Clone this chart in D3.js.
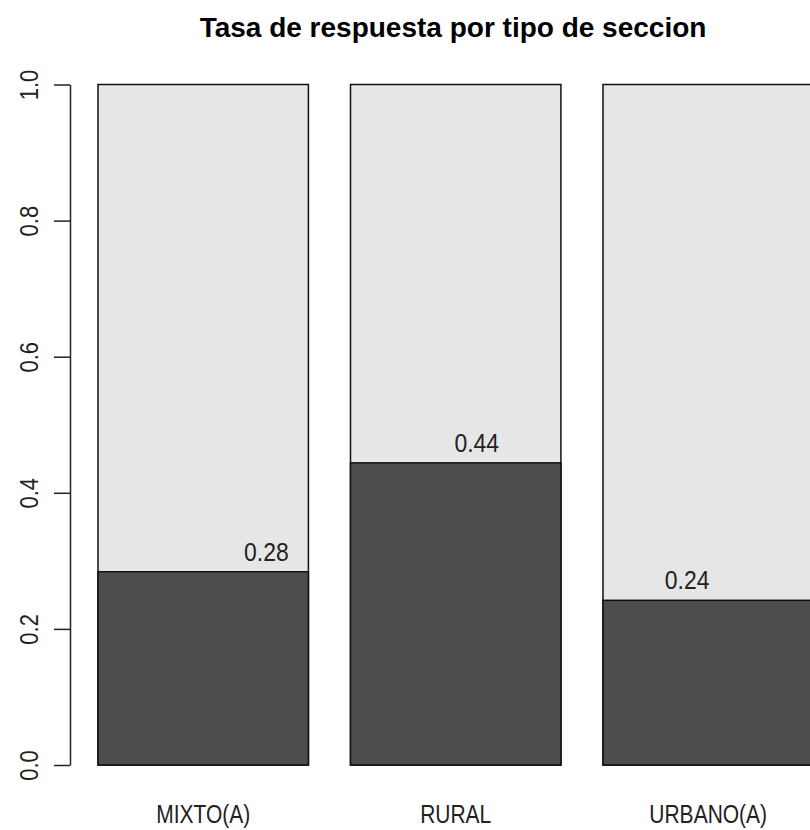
<!DOCTYPE html>
<html>
<head>
<meta charset="utf-8">
<script src="https://cdn.jsdelivr.net/npm/d3@7"></script>
<style>
  body { margin: 0; background: #fff; }
  svg { display: block; font-family: "Liberation Sans", Arial, sans-serif; }
</style>
</head>
<body>
<div id="chart"></div>
<script>
// Data
const categories = ["MIXTO(A)", "RURAL", "URBANO(A)"];
const rates = [0.284, 0.444, 0.242];
const yTicks = [0, 0.2, 0.4, 0.6, 0.8, 1.0];
const chartTitle = "Tasa de respuesta por tipo de seccion";

const width = 810, height = 830;

let svg = d3.select("#chart")
    .append("svg")
    .attr("width", width)
    .attr("height", height);

// y scale: 0..1
let y = d3.scaleLinear()
    .domain([0, 1])
    .range([765, 84.5]);

// x scale in barplot units (bar width 1, space 0.2)
let x = d3.scaleLinear()
    .domain([0.2, 1.4])
    .range([98, 350.5]);

let barW = x(1.2) - x(0.2);

let data = categories.map((c, i) => ({cat: c, rate: rates[i], left: 0.2 + 1.2 * i, labelX: i + 1}));

// Light full bars (total = 1)
svg.selectAll("rect.full")
    .data(data)
    .enter()
    .append("rect")
    .attr("class", "full")
    .attr("x", d => x(d.left))
    .attr("y", y(1))
    .attr("width", barW)
    .attr("height", y(0) - y(1))
    .attr("fill", "#e6e6e6")
    .attr("stroke", "#111")
    .attr("stroke-width", 1.5);

// Dark response part
svg.selectAll("rect.resp")
    .data(data)
    .enter()
    .append("rect")
    .attr("class", "resp")
    .attr("x", d => x(d.left))
    .attr("y", d => y(d.rate))
    .attr("width", barW)
    .attr("height", d => y(0) - y(d.rate))
    .attr("fill", "#4d4d4d")
    .attr("stroke", "#111")
    .attr("stroke-width", 1.5);

// Value labels
svg.selectAll("text.val")
    .data(data)
    .enter()
    .append("text")
    .attr("class", "val")
    .attr("transform", d => `translate(${x(d.labelX)},${y(d.rate) - 11})scale(1,1.12)`)
    .style("text-anchor", "middle")
    .style("font-size", "23px")
    .attr("fill", "#222")
    .text(d => d3.format(".2f")(d.rate));

// Category labels
svg.selectAll("text.cat")
    .data(data)
    .enter()
    .append("text")
    .attr("class", "cat")
    .attr("transform", d => `translate(${x(d.left + 0.5)},823)scale(1,1.2)`)
    .style("text-anchor", "middle")
    .style("font-size", "21px")
    .attr("fill", "#222")
    .text(d => d.cat);

// Y axis
let yAxis = svg.append("g")
    .attr("transform", "translate(70,0)")
    .call(d3.axisLeft(y).tickValues(yTicks).tickSize(16).tickSizeOuter(0).tickFormat(d3.format(".1f")));

yAxis.select(".domain").attr("stroke", "#222").attr("stroke-width", 1.5);
yAxis.selectAll(".tick line").attr("stroke", "#222").attr("stroke-width", 1.5);
yAxis.selectAll(".tick text")
    .attr("x", null)
    .attr("dy", null)
    .attr("transform", "translate(-32,0)rotate(-90)scale(1,1.2)")
    .style("text-anchor", "middle")
    .style("font-size", "22px")
    .style("font-family", "'Liberation Sans', Arial, sans-serif")
    .attr("fill", "#222");

// Title
svg.append("text")
    .attr("x", 453)
    .attr("y", 37)
    .style("text-anchor", "middle")
    .style("font-size", "28px")
    .style("font-weight", "bold")
    .attr("fill", "#000")
    .text(chartTitle);
</script>
</body>
</html>
